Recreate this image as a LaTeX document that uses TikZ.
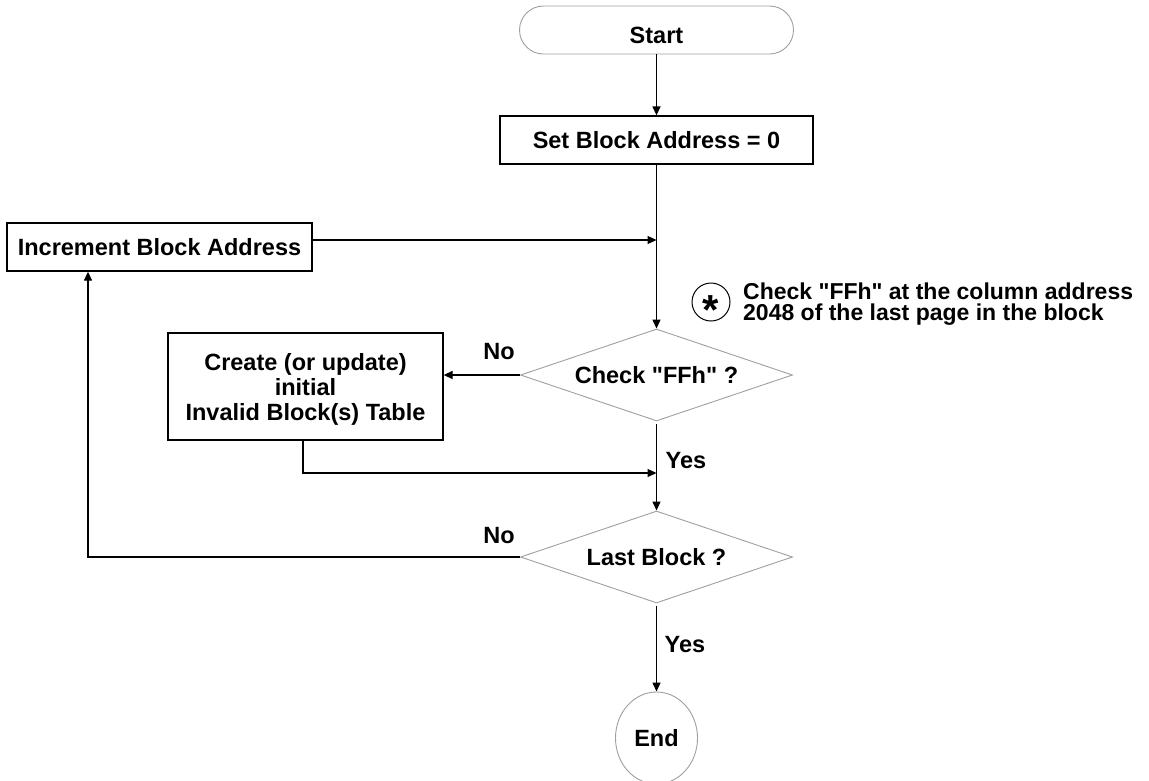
\documentclass[tikz,border=0pt]{standalone}
\usepackage{fontspec}
\setmainfont{Liberation Sans}[Ligatures=TeXOff]
\usetikzlibrary{arrows.meta,shapes.geometric}
\begin{document}
\begin{tikzpicture}[x=1pt,y=-1pt,
  txt/.style={font=\fontsize{23.5}{25}\selectfont\bfseries},
  box/.style={txt,draw=black,line width=1.3pt,inner sep=0pt},
  term/.style={txt,draw=gray!75,line width=0.9pt,inner sep=0pt},
  decision/.style={txt,diamond,aspect=2.96,draw=gray!75,line width=0.9pt,inner sep=0pt,minimum width=272pt,minimum height=92pt},
  conn/.style={line width=1.3pt},
  arr/.style={conn,-{Triangle[length=9pt,width=8pt]}},
  lbl/.style={txt,inner sep=0pt},
  note/.style={font=\fontsize{23}{21}\selectfont\bfseries,inner sep=0pt,align=left}]
\clip (0,0) rectangle (1149,780);
% nodes
\node[term,rounded corners=24pt,minimum width=274pt,minimum height=48pt,text height=26pt,text depth=0pt] (start) at (656.5,30) {Start};
\node[box,minimum width=313pt,minimum height=48pt] (set) at (656.5,140) {Set Block Address = 0};
\node[box,minimum width=305pt,minimum height=48pt] (inc) at (159.5,247) {Increment Block Address};
\node[decision] (chk) at (656.5,375) {Check "FFh" ?};
\node[box,minimum width=275pt,minimum height=107pt,align=center,text depth=-3pt] (create) at (305.5,386.5) {Create (or update)\\initial\\Invalid Block(s) Table};
\node[decision] (last) at (656.5,557) {Last Block ?};
\node[term,ellipse,minimum width=82pt,minimum height=92pt] (end) at (656.5,738) {End};
% annotation
\node[circle,draw=black,line width=1pt,minimum size=38pt,inner sep=0pt] (ast) at (711,302) {};
\node[font=\fontsize{42}{42}\selectfont\bfseries,inner sep=0pt,anchor=base,yshift=-22pt] (astsym) at (ast.center) {*};
\node[note,anchor=west] (notetext) at (743,304) {Check "FFh" at the column address\\2048 of the last page in the block};
% coordinates
\coordinate (incout) at ([yshift=7pt]inc.east);
\coordinate (join1) at (chk.north |- incout);
\coordinate (join2) at (chk.south |- 0,473);
% connectors
\draw[arr] (start.south) -- (set.north);
\draw[arr] (set.south) -- (chk.north);
\draw[arr] (incout) -- (join1);
\draw[arr] (chk.west) -- (create.east |- chk.west);
\draw[arr,shorten <=3pt] (chk.south) -- (last.north);
\draw[arr] ([xshift=-2.5pt]create.south) |- (join2);
\draw[arr] (last.west) -| ([xshift=-71.5pt]inc.south);
\draw[arr,shorten <=3pt] (last.south) -- (end.north);
% labels
\node[lbl] (no1) at (499,352) {No};
\node[lbl] (yes1) at (686,461) {Yes};
\node[lbl] (no2) at (499,536) {No};
\node[lbl] (yes2) at (685,645) {Yes};
\end{tikzpicture}
\end{document}
